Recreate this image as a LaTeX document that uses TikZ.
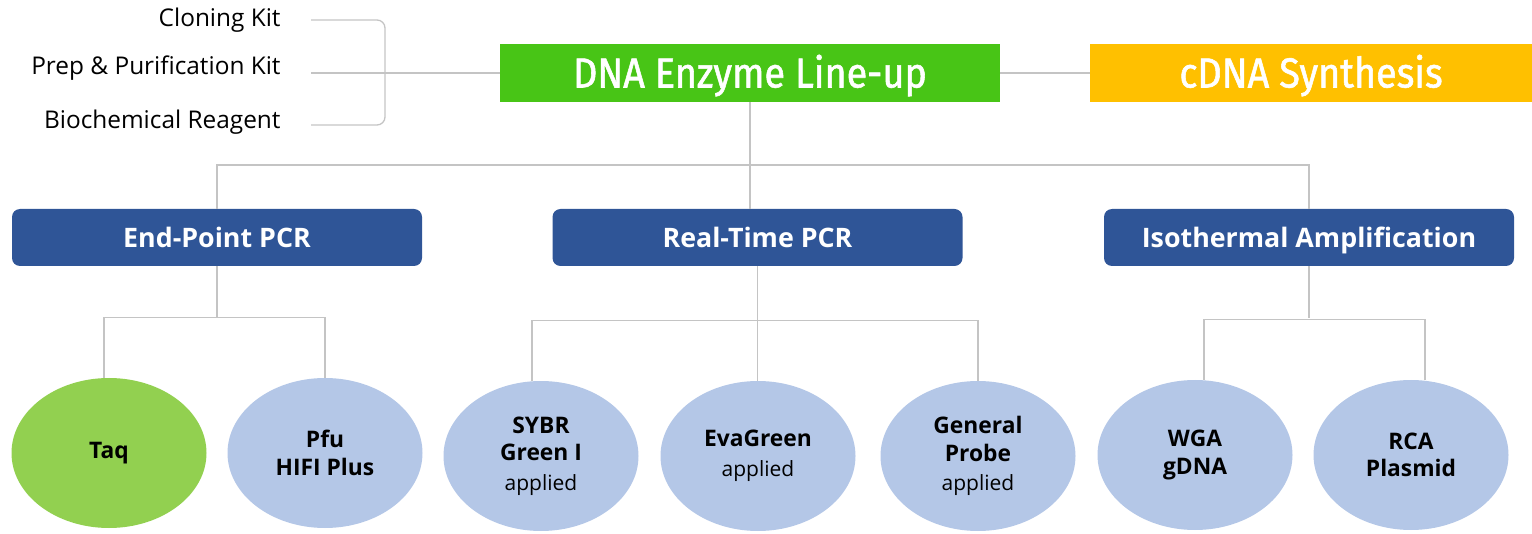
\documentclass[tikz,border=0pt]{standalone}
\usepackage{fontspec}
\setmainfont{Open Sans}
\newfontfamily\headfont[FakeStretch=0.9,FakeBold=1.3]{Fira Sans}
\usepackage{tikz}
\usetikzlibrary{shapes.geometric}

\definecolor{leafgreen}{RGB}{72,197,22}
\definecolor{cdnayellow}{RGB}{255,192,0}
\definecolor{groupblue}{RGB}{47,85,151}
\definecolor{itemblue}{RGB}{180,199,231}
\definecolor{taqgreen}{RGB}{146,208,80}
\definecolor{linkgrey}{RGB}{196,196,196}

\newcommand{\subnote}[1]{{\normalfont\fontsize{10.5}{12}\selectfont #1}}

\tikzset{
  link/.style={draw=linkgrey, line width=0.65pt},
  sidelabel/.style={anchor=east, inner sep=0pt, font=\fontsize{12.2}{14}\selectfont},
  headbox/.style={minimum height=29pt, inner sep=0pt, text=white, text height=14.5pt, text depth=0pt,
    font=\headfont\fontsize{21}{24}\selectfont},
  groupbox/.style={fill=groupblue, rounded corners=4pt, minimum width=205pt, minimum height=28.5pt,
    inner sep=0pt, text=white, text height=9.6pt, text depth=0pt, font=\bfseries\fontsize{13.4}{15}\selectfont},
  item/.style={ellipse, fill=itemblue, minimum width=97.5pt, minimum height=75pt, inner sep=0pt,
    align=center, font=\bfseries\fontsize{11.4}{13.8}\selectfont}
}

\begin{document}
\begin{tikzpicture}[x=0.5pt,y=-0.5pt]
  \useasboundingbox (0,0) rectangle (1532,534);

  %% Top line
  \node[headbox, fill=leafgreen, minimum width=250pt] (dna) at (750,73) {DNA Enzyme Line-up};
  \node[headbox, fill=cdnayellow, minimum width=221pt] (cdna) at (1311,73) {cDNA Synthesis};
  \draw[link] (dna.east) -- (cdna.west);

  %% Side labels with bracket
  \node[sidelabel] (clone) at (281,20) {Cloning Kit};
  \node[sidelabel] (prep) at (281,68) {Prep \& Purification Kit};
  \node[sidelabel] (bioreag) at (281,122) {Biochemical Reagent};
  \coordinate (brtop) at (385,20);
  \coordinate (brbot) at (385,125);
  \draw[link, rounded corners=4pt] ([xshift=15pt]clone.east) -- (brtop) -- (brbot) -- ([xshift=15pt]bioreag.east |- brbot);
  \draw[link] ([xshift=15pt]prep.east |- dna.west) -- (dna.west);

  %% Groups
  \node[groupbox] (endpt) at (217,237.5) {End-Point PCR};
  \node[groupbox] (rtpcr) at (757.5,237.5) {Real-Time PCR};
  \node[groupbox] (iso) at (1309,237.5) {Isothermal Amplification};
  \coordinate (hub) at (752,165);
  \draw[link] (dna.south) -- (dna.south |- rtpcr.north);
  \draw[link] (endpt.north) -- (endpt.north |- hub) -- (iso.north |- hub) -- (iso.north);

  %% Items
  \node[item, fill=taqgreen] (taq) at (109,453) {Taq};
  \node[item] (pfu) at (325,453) {Pfu\\HIFI Plus};
  \node[item] (sybr) at (541,456) {SYBR\\Green I\\[1pt]\subnote{applied}};
  \node[item] (eva) at (758,456) {EvaGreen\\[1pt]\subnote{applied}};
  \node[item] (probe) at (978,456) {General\\Probe\\[1pt]\subnote{applied}};
  \node[item] (wga) at (1195,455) {WGA\\gDNA};
  \node[item] (rca) at (1411,455) {RCA\\Plasmid};

  \draw[link] (endpt.south) -- ++(0,52);
  \draw[link] ([xshift=-2.5pt]taq.north) -- ++(0,-60) -| (pfu.north);
  \draw[link] (rtpcr.south) -- (rtpcr.south |- eva.north);
  \draw[link] ([xshift=-4.5pt]sybr.north) -- ++(0,-60) -| (probe.north);
  \draw[link] (iso.south) -- ++(0,52);
  \draw[link] ([xshift=4.5pt]wga.north) -- ++(0,-60) -| ([xshift=7pt]rca.north);

\end{tikzpicture}
\end{document}
